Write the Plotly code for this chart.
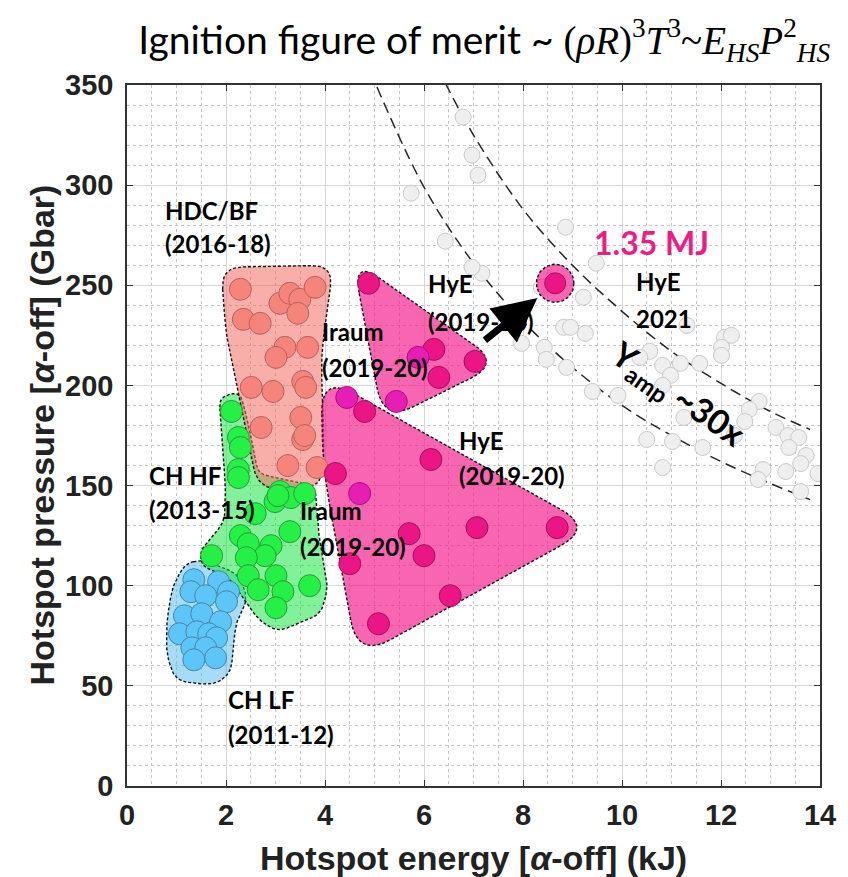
import numpy as np
import plotly.graph_objects as go

# ---------------- data ----------------
# CH LF (2011-12)
chlf_E = [1.35, 1.85, 1.29, 1.59, 2.05, 2.01, 1.16, 1.51, 1.89, 1.06, 1.41, 1.65, 1.81, 1.31, 1.59, 1.79, 1.35]
chlf_P = [103, 102, 97, 95, 97, 92, 85, 86, 82, 76, 77, 76, 74, 69, 69, 64, 63]
# CH HF (2013-15)
chhf_E = [2.11, 2.25, 2.29, 2.25, 2.25, 3.09, 2.99, 3.31, 3.59, 2.59, 2.29, 2.45, 3.29, 2.91, 2.79, 2.41,
          1.71, 2.45, 3.01, 2.65, 3.15, 3.69, 3.01, 3.05]
chhf_P = [187, 174, 169, 158, 154, 147, 142, 144, 146, 136, 125, 121, 127, 120, 115, 114,
          115, 105, 105, 98, 97, 100, 89, 145]
# HDC/BF (2016-18)
hdc_E = [2.29, 3.09, 3.29, 3.49, 3.80, 3.45, 2.35, 2.69, 3.19, 3.01, 3.65, 3.55, 3.61, 2.51, 2.95,
         3.51, 2.71, 3.55, 3.59, 3.25, 3.84]
hdc_P = [248, 241, 246, 243, 249, 236, 233, 231, 219, 214, 219, 202, 199, 199, 197,
         184, 179, 173, 175, 160, 159]
# HyE (2019-20)
hye_E = [4.80, 6.14, 4.21, 7.07, 8.69, 5.70, 6.00, 4.50, 6.53, 5.08, 4.88, 6.20, 6.30, 7.03]
hye_P = [187, 163, 156, 129, 129, 126, 115, 111, 95, 81, 251, 218, 204, 212]
# Iraum (2019-20)
iraum_E = [4.44, 4.70, 5.88, 5.44]
iraum_P = [194, 146, 214, 192]
# HyE 2021 (1.35 MJ)
hye21_E = [8.65]
hye21_P = [251]
# other shots (grey)
other_E = [6.79, 6.97, 7.09, 5.74, 8.86, 6.43, 9.48, 7.17, 6.97, 9.22, 8.37, 8.82, 8.96, 9.26, 11.31,
           12.07, 12.21, 12.01, 12.01, 7.97, 8.43, 8.47, 8.88, 10.56, 10.36, 10.82, 11.18, 11.57,
           10.98, 9.40, 9.92, 10.82, 12.77, 12.57, 12.48, 12.27, 11.25, 10.50, 11.02, 11.63, 13.11,
           13.35, 13.57, 13.37, 13.72, 13.61, 13.96, 10.82, 12.85, 13.31, 12.75, 13.61]
other_P = [334, 315, 305, 296, 279, 272, 261, 256, 259, 244, 249, 229, 229, 226, 230,
           224, 225, 219, 215, 221, 219, 213, 209, 217, 214, 210, 211, 211,
           205, 197, 195, 200, 192, 188, 182, 175, 184, 173, 172, 169, 179,
           175, 174, 169, 165, 161, 156, 159, 158, 157, 153, 147]
# Yamp ~30x guide curves
curveA_E = [5.05, 6, 7, 8, 9, 10, 11, 12, 13, 13.8]
curveA_P = [349, 299, 261, 232, 209, 190, 175, 162, 151, 143]
curveB_E = [6.43, 7, 8, 9, 10, 11, 12, 13, 13.8]
curveB_P = [351, 325, 288, 260, 237, 217, 201, 187, 178]
# region outlines (vertices, rounded when drawn)
blue_reg_E = [1.50, 2.25, 2.45, 2.20, 2.10, 1.82, 1.38, 0.98, 0.80, 0.80, 0.92, 1.18]
blue_reg_P = [113, 106, 93, 82, 57, 51, 51, 53, 65, 82, 100, 111]
green_reg_E = [1.86, 2.28, 2.45, 2.65, 2.99, 3.80, 3.86, 4.06, 3.92, 3.05, 2.65, 2.25, 2.05, 1.51, 1.47, 1.97, 1.99]
green_reg_P = [194, 197, 181, 156, 154, 150, 128, 99, 86, 77, 83, 98, 104, 110, 117, 132, 149]
hdc_reg_E = [1.90, 4.17, 3.92, 3.98, 3.95, 2.65, 2.30, 2.00]
hdc_reg_P = [259, 260, 215, 170, 149, 148, 190, 225]
pinkL_reg_E = [3.92, 9.42, 4.66, 3.96]
pinkL_reg_P = [205, 129, 64, 158]
pinkU_reg_E = [4.56, 7.55, 5.18]
pinkU_reg_P = [263, 211, 182]

# ---------------- geometry helpers (pixel-space styling) ----------------
SX = 702 / 14.0    # px per kJ
SY = 701 / 350.0   # px per Gbar


def rounded(xs, ys, r=14, n=10):
    pts = np.array([[x * SX, y * SY] for x, y in zip(xs, ys)])
    N = len(pts)
    out = []
    for i in range(N):
        p0, p1, p2 = pts[i - 1], pts[i], pts[(i + 1) % N]
        d1 = np.linalg.norm(p0 - p1)
        d2 = np.linalg.norm(p2 - p1)
        rr = min(r, d1 / 2, d2 / 2)
        a = p1 + (p0 - p1) * rr / d1
        b = p1 + (p2 - p1) * rr / d2
        for t in np.linspace(0, 1, n):
            out.append((1 - t) ** 2 * a + 2 * (1 - t) * t * p1 + t ** 2 * b)
    out.append(out[0])
    out = np.array(out)
    return out[:, 0] / SX, out[:, 1] / SY


def circle(cx, cy, rpx, n=60):
    t = np.linspace(0, 2 * np.pi, n)
    return cx + rpx * np.cos(t) / SX, cy + rpx * np.sin(t) / SY


fig = go.Figure()

outline = dict(color="#111111", width=1.4, dash="3px,2px")


def region(xs, ys, fill, r):
    rx, ry = rounded(xs, ys, r=r)
    fig.add_trace(go.Scatter(x=rx, y=ry, mode="lines", fill="toself", fillcolor=fill,
                             line=outline, hoverinfo="skip", showlegend=False))


region(blue_reg_E, blue_reg_P, "rgba(80,185,240,0.5)", 12)
region(green_reg_E, green_reg_P, "rgba(30,230,70,0.55)", 10)
region(hdc_reg_E, hdc_reg_P, "rgba(242,110,100,0.55)", 22)
region(pinkL_reg_E, pinkL_reg_P, "rgba(245,30,140,0.68)", 38)
region(pinkU_reg_E, pinkU_reg_P, "rgba(245,30,140,0.68)", 34)

# guide curves
for ce, cp in [(curveA_E, curveA_P), (curveB_E, curveB_P)]:
    fig.add_trace(go.Scatter(x=ce, y=cp, mode="lines", line=dict(color="#262626", width=1.5, dash="11px,6px",
                                                                    shape="spline"),
                             hoverinfo="skip", showlegend=False))


def pts(xs, ys, color, lcolor, size=22):
    fig.add_trace(go.Scatter(x=xs, y=ys, mode="markers",
                             marker=dict(size=size, color=color, line=dict(color=lcolor, width=1)),
                             showlegend=False))


pts(other_E, other_P, "#EFEFEF", "#C9C9C9", 16)
pts(chlf_E, chlf_P, "#5CC6F8", "#4A84A6")
pts(chhf_E, chhf_P, "#24F046", "#2A9A3A")
pts(hdc_E, hdc_P, "#F5847B", "#B86060")
pts(hye_E, hye_P, "#EC1585", "#A0105A")
pts(iraum_E, iraum_P, "#E81EB4", "#A01080")

# 1.35 MJ halo + point
hx, hy = circle(hye21_E[0], hye21_P[0], 19)
fig.add_trace(go.Scatter(x=hx, y=hy, mode="lines", fill="toself", fillcolor="rgba(245,30,140,0.68)",
                         line=outline, hoverinfo="skip", showlegend=False))
pts(hye21_E, hye21_P, "#EC1585", "#A0105A", 21)

# ---------------- text ----------------
lab_font = dict(family="Lato", size=24, color="black", weight="bold")
labels = [
    ("HDC/BF", 0.72, 287.5), ("(2016-18)", 0.72, 271),
    ("Iraum", 3.90, 227), ("(2019-20)", 3.90, 209),
    ("HyE", 6.05, 251), ("(2019-20)", 6.05, 232),
    ("HyE", 10.25, 252), ("2021", 10.25, 233.5),
    ("HyE", 6.66, 172.5), ("(2019-20)", 6.66, 155),
    ("CH HF", 0.40, 155), ("(2013-15)", 0.40, 138),
    ("Iraum", 3.45, 137.5), ("(2019-20)", 3.45, 119.5),
    ("CH LF", 2.01, 43), ("(2011-12)", 2.01, 25.5),
]
for t, x, y in labels:
    fig.add_annotation(x=x, y=y, text=t, showarrow=False, xanchor="left", yanchor="middle", font=lab_font)

fig.add_annotation(x=9.40, y=271.5, text="1.35 MJ", showarrow=False, xanchor="left", yanchor="middle",
                   font=dict(family="Lato", size=32, color="#EE1C84", weight="bold"))
fig.add_annotation(x=11.12, y=195, text="Y<sub>amp</sub> ~30x", showarrow=False, textangle=35,
                   font=dict(family="Lato", size=34, color="black", weight="bold"))
# arrow
fig.add_annotation(x=8.29, y=243.6, ax=7.20, ay=222.0, axref="x", ayref="y", text="",
                   showarrow=True, arrowhead=2, arrowsize=1.25, arrowwidth=7, arrowcolor="black")

# axis titles
ax_font = dict(family="Liberation Sans", size=34, color="#222222", weight="bold")
fig.add_annotation(xref="paper", yref="paper", x=0.5, y=0, yshift=-72, yanchor="middle",
                   text="Hotspot energy [<i>α</i>-off] (kJ)", showarrow=False, font=ax_font)
fig.add_annotation(xref="paper", yref="paper", x=0, y=0.5, xshift=-86, xanchor="center",
                   text="Hotspot pressure [<i>α</i>-off] (Gbar)", showarrow=False, textangle=-90, font=ax_font)

title = ("Ignition figure of merit ~ <span style='font-family:Liberation Serif'>(<i>ρR</i>)<sup>3</sup>"
         "<i>T</i><sup>3</sup>~<i>E</i><sub><i>HS</i></sub><i>P</i><sup>2</sup><sub><i>HS</i></sub></span>")

axis_common = dict(showline=True, linecolor="#333333", linewidth=1.5, mirror="ticks",
                   ticks="inside", ticklen=6, tickcolor="#333333",
                   showgrid=True, gridcolor="#D6D6D6", gridwidth=1, zeroline=False,
                   tickfont=dict(family="Liberation Sans", size=29, color="#222222", weight="bold"))
fig.update_layout(
    width=848, height=877,
    margin=dict(l=127, r=19, t=85, b=91),
    paper_bgcolor="white", plot_bgcolor="white",
    title=dict(text=title, xref="container", x=0.571, xanchor="center", yref="container",
               y=1 - 40 / 877, yanchor="middle",
               font=dict(family="Lato", size=39, color="black")),
    xaxis=dict(range=[0, 14], tickvals=[0, 2, 4, 6, 8, 10, 12, 14], ticklabelstandoff=2,
               minor=dict(dtick=0.5, showgrid=True, gridcolor="#C4C4C4", griddash="dot", gridwidth=1),
               **axis_common),
    yaxis=dict(range=[0, 350], tickvals=[0, 50, 100, 150, 200, 250, 300, 350], ticklabelstandoff=6,
               minor=dict(dtick=10, showgrid=True, gridcolor="#C4C4C4", griddash="dot", gridwidth=1),
               **axis_common),
    showlegend=False,
)

fig.write_html("out.html")
